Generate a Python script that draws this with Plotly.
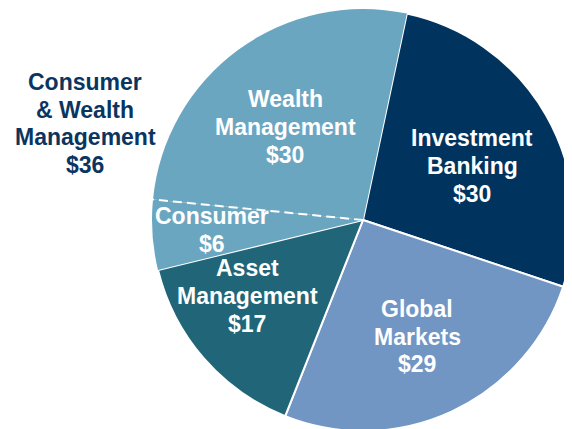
import math
import plotly.graph_objects as go

segments = ["Investment Banking", "Global Markets", "Asset Management", "Consumer", "Wealth Management"]
values = [30, 29, 17, 6, 30]
colors = ["#00345E", "#7196C3", "#216579", "#6BA6C1", "#6BA6C1"]
line_widths = [2, 2, 2, 0, 0]
label_lines = [["Investment", "Banking", "$30"], ["Global", "Markets", "$29"],
               ["Asset", "Management", "$17"], ["Consumer", "$6"], ["Wealth", "Management", "$30"]]
group_lines = ["Consumer", "& Wealth", "Management", "$36"]
rotation = 12

W, H = 572, 429
OFF = 8  # page body margin offset
# label centres in window pixels
label_px = [(472, 165.7), (417, 336.5), (247, 296), (212, 230), (285, 127)]
group_px = (85, 123.5)
LINE_GAP = 27.9


def to_paper(px, py):
    return (px - OFF) / W, 1 - (py - OFF) / H


# pie: centre (363,220), radius 211 in window pixels
cx, cy, rad = 363 - OFF, 220 - OFF, 211
domain = dict(x=[(cx - rad) / W, (cx + rad) / W], y=[1 - (cy + rad) / H, 1 - (cy - rad) / H])

fig = go.Figure()
fig.add_trace(go.Pie(
    labels=segments, values=values, sort=False, direction="clockwise", rotation=rotation,
    marker=dict(colors=colors, line=dict(color="white", width=line_widths)),
    textinfo="none", hoverinfo="label+value", showlegend=False, domain=domain,
))

# dashed divider between Consumer and Wealth Management, angle derived from the data
total = sum(values)
cum = sum(values[:4])
theta = math.radians(rotation + cum / total * 360)
ex, ey = cx + rad * math.sin(theta), cy - rad * math.cos(theta)
fig.add_shape(type="line", xref="paper", yref="paper", layer="above",
              x0=cx / W, y0=1 - cy / H, x1=ex / W, y1=1 - ey / H,
              line=dict(color="white", width=2, dash="9px,5px"))

font_family = "Liberation Sans, Arial, sans-serif"
annotations = []


def add_block(lines, center, color):
    n = len(lines)
    for i, t in enumerate(lines):
        x, y = to_paper(center[0], center[1] + (i - (n - 1) / 2) * LINE_GAP)
        annotations.append(dict(text=t, x=x, y=y, xref="paper", yref="paper", showarrow=False,
                                xanchor="center", yanchor="middle",
                                font=dict(family=font_family, size=23, color=color, weight="bold")))


for lines, c in zip(label_lines, label_px):
    add_block(lines, c, "white")
add_block(group_lines, group_px, "#0B3560")

fig.update_layout(
    width=W, height=H, margin=dict(l=0, r=0, t=0, b=0),
    paper_bgcolor="white", plot_bgcolor="white", annotations=annotations,
)
fig.write_html("out.html")
